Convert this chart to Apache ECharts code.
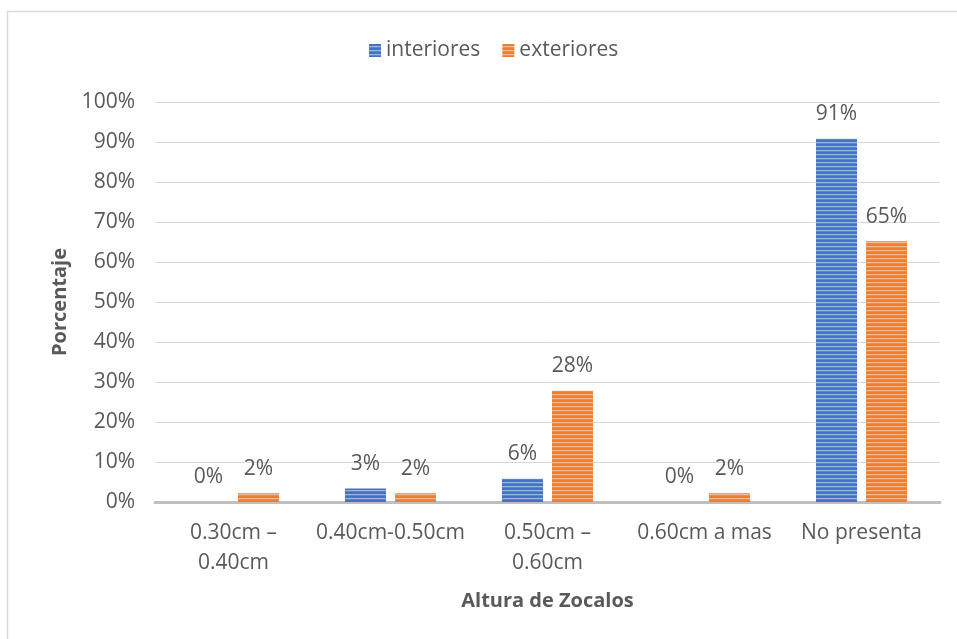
<!DOCTYPE html>
<html><head><meta charset="utf-8">
<script src="https://cdn.jsdelivr.net/npm/echarts@6/dist/echarts.min.js"></script>
<style>html,body{margin:0;padding:0;background:#fff}#c{width:957px;height:639px}</style>
</head><body><div id="c"></div>
<script>
const categories = ['0.30cm –\n0.40cm', '0.40cm-0.50cm', '0.50cm –\n0.60cm', '0.60cm a mas', 'No presenta'];
const interiores = [0, 3.4, 5.8, 0, 90.8];
const exteriores = [2.2, 2.2, 27.8, 2.2, 65.2];
const yTicks = [0, 10, 20, 30, 40, 50, 60, 70, 80, 90, 100];
const seriesNames = ['interiores', 'exteriores'];

function stripe(base, light, mid) {
  const c = document.createElement('canvas');
  c.width = 4; c.height = 4;
  const g = c.getContext('2d');
  g.fillStyle = base; g.fillRect(0, 0, 4, 4);
  g.fillStyle = light; g.fillRect(0, 2, 4, 1);
  g.fillStyle = mid; g.fillRect(0, 3, 4, 1);
  return { image: c, repeat: 'repeat' };
}
const bluePat = stripe('#4472C4', '#9DB5E3', '#5A83CC');
const orangePat = stripe('#ED7D31', '#F7B98E', '#EF8C47');

const font = '"Open Sans", sans-serif';
const txt = '#595959';
const chart = echarts.init(document.getElementById('c'), null, { renderer: 'canvas' });
const lbl = {
  show: true, position: 'top', distance: 14, color: txt, fontFamily: font, fontSize: 21,
  formatter: p => Math.round(p.value) + '%'
};
chart.setOption({
  animation: false,
  backgroundColor: '#fff',
  graphic: [{
    type: 'rect', shape: { x: 7.5, y: 11.5, width: 2000, height: 2000 },
    style: { fill: 'none', stroke: '#D9D9D9', lineWidth: 1.5 }, silent: true
  }],
  legend: {
    left: 364, top: 35, itemWidth: 12, itemHeight: 13, itemGap: 22, icon: 'rect',
    textStyle: { color: txt, fontFamily: font, fontSize: 21 },
    data: seriesNames
  },
  grid: { left: 155, right: 17, top: 102, bottom: 137, containLabel: false },
  xAxis: {
    type: 'category', data: categories,
    name: 'Altura de Zocalos', nameLocation: 'middle', nameGap: 89,
    nameTextStyle: { color: txt, fontFamily: font, fontSize: 20, fontWeight: 'bold' },
    axisLine: { lineStyle: { color: '#BFBFBF', width: 3 } },
    axisTick: { show: false },
    axisLabel: { color: txt, fontFamily: font, fontSize: 21, lineHeight: 30, margin: 16, interval: 0 }
  },
  yAxis: {
    type: 'value', min: 0, max: 100, interval: 10,
    name: 'Porcentaje', nameLocation: 'middle', nameGap: 84, nameRotate: 90,
    nameTextStyle: { color: txt, fontFamily: font, fontSize: 20, fontWeight: 'bold' },
    axisLine: { show: false }, axisTick: { show: false },
    axisLabel: { color: txt, fontFamily: font, fontSize: 21, margin: 20,
      formatter: v => yTicks.includes(v) ? v + '%' : '' },
    splitLine: { lineStyle: { color: '#D9D9D9', width: 1 } }
  },
  series: [
    { name: seriesNames[0], type: 'bar', data: interiores, barWidth: 41, barGap: '22%',
      itemStyle: { color: bluePat }, label: lbl },
    { name: seriesNames[1], type: 'bar', data: exteriores, barWidth: 41, barGap: '22%',
      itemStyle: { color: orangePat }, label: lbl }
  ]
});
</script></body></html>
